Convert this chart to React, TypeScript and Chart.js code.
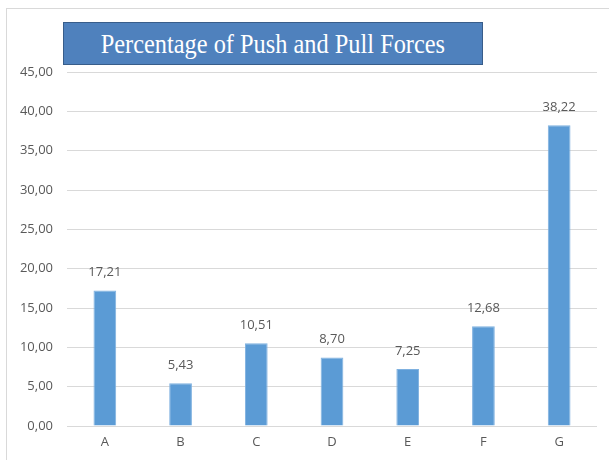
import React, { useEffect, useRef } from "react";
import { Chart, registerables } from "chart.js";

Chart.register(...registerables);

const categories = ["A", "B", "C", "D", "E", "F", "G"];
const values = [17.21, 5.43, 10.51, 8.7, 7.25, 12.68, 38.22];
const titleText = "Percentage of Push and Pull Forces";

const fmt = (v: number) => v.toFixed(2).replace(".", ",");

const valueLabels = {
  id: "valueLabels",
  afterDatasetsDraw(chart: any) {
    const ctx = chart.ctx;
    const meta = chart.getDatasetMeta(0);
    ctx.save();
    ctx.font = "13px 'Open Sans'";
    ctx.fillStyle = "#595959";
    ctx.textAlign = "center";
    ctx.textBaseline = "middle";
    meta.data.forEach((bar: any, i: number) => {
      ctx.fillText(fmt(values[i]), bar.x, bar.y - 18);
    });
    ctx.restore();
  },
};

export default function App() {
  const ref = useRef<HTMLCanvasElement>(null);
  useEffect(() => {
    const chart = new Chart(ref.current!, {
      type: "bar",
      data: {
        labels: categories,
        datasets: [
          {
            data: values,
            backgroundColor: "#5B9BD5",
            borderColor: "#7FB1E0",
            borderWidth: 1,
            barPercentage: 0.6,
            categoryPercentage: 0.5,
          },
        ],
      },
      options: {
        responsive: false,
        animation: false,
        layout: { padding: { left: 8, right: 12, top: 72, bottom: 8 } },
        plugins: { legend: { display: false }, tooltip: { enabled: false }, title: { display: false } },
        scales: {
          x: {
            grid: { display: false, drawTicks: false },
            border: { display: false },
            ticks: { color: "#595959", font: { family: "'Open Sans'", size: 13 }, padding: 8 },
            afterFit: (s: any) => {
              s.height = 26;
            },
          },
          y: {
            min: 0,
            max: 45,
            grid: { color: "#d9d9d9", drawTicks: false },
            border: { display: false },
            ticks: {
              stepSize: 5,
              color: "#595959",
              font: { family: "'Open Sans'", size: 13 },
              padding: 14,
              callback: (v: any) => fmt(Number(v)),
            },
            afterFit: (s: any) => {
              s.width = 59;
            },
          },
        },
      },
      plugins: [valueLabels],
    });
    return () => chart.destroy();
  }, []);

  return (
    <div style={{ position: "fixed", left: 0, top: 0, width: 609, height: 460, background: "#fff", overflow: "hidden" }}>
      <div
        style={{
          position: "absolute",
          left: 6,
          top: 8,
          width: 700,
          height: 600,
          borderLeft: "1px solid #d9d9d9",
          borderTop: "1px solid #d9d9d9",
        }}
      />
      <canvas ref={ref} width={609} height={460} style={{ position: "absolute", left: 0, top: 0 }} />
      <div
        style={{
          position: "absolute",
          left: 63,
          top: 22,
          width: 420,
          height: 43,
          boxSizing: "border-box",
          background: "#4F81BD",
          border: "1px solid #385D8A",
          color: "#fff",
          fontFamily: "'Liberation Serif', serif",
          fontSize: 28,
          lineHeight: "41px",
          textAlign: "center",
          overflow: "hidden",
        }}
      >
        <span style={{ display: "inline-block", transform: "scaleX(0.87)", whiteSpace: "nowrap" }}>{titleText}</span>
      </div>
    </div>
  );
}
